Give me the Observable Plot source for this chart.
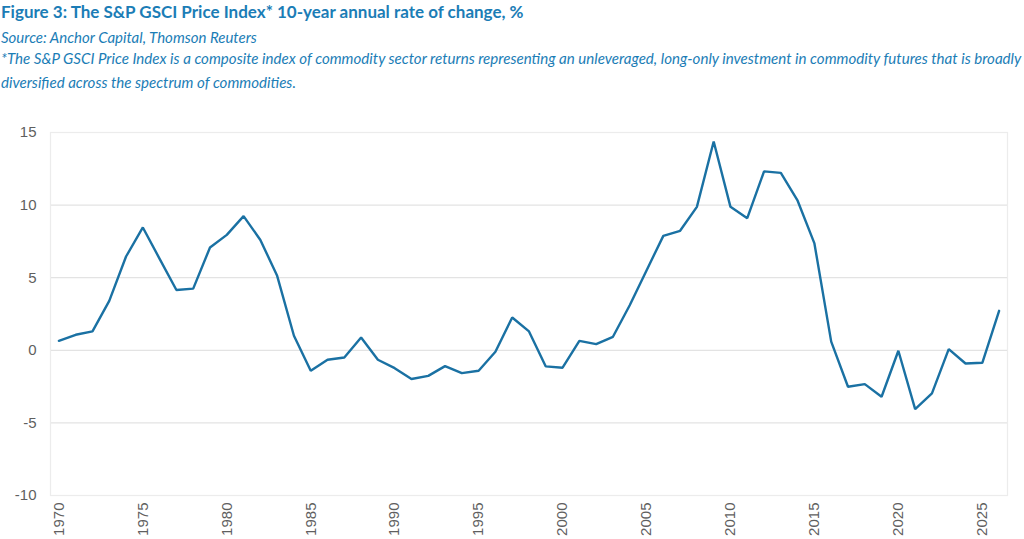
<!DOCTYPE html>
<html>
<head>
<meta charset="utf-8">
<script src="https://cdn.jsdelivr.net/npm/d3@7"></script>
<script src="https://cdn.jsdelivr.net/npm/@observablehq/plot@0.6"></script>
<style>
  html, body { margin: 0; padding: 0; background: #fff; }
  #wrap { width: 1024px; height: 539px; position: relative; overflow: hidden; }
  .t { position: absolute; left: 1px; white-space: nowrap; font-family: Lato, sans-serif; color: #1b7db6; line-height: 1.2; }
  #title { top: 2px; font-size: 17px; font-weight: bold; }
  #source { top: 28px; font-size: 15px; font-style: italic; }
  #note1 { top: 49px; font-size: 15.1px; font-style: italic; }
  #note2 { top: 73px; font-size: 15.1px; font-style: italic; }
  #chart { position: absolute; left: 0; top: 100px; }
</style>
</head>
<body>
<div id="wrap">
  <div class="t" id="title">Figure 3: The S&amp;P GSCI Price Index* 10-year annual rate of change, %</div>
  <div class="t" id="source">Source: Anchor Capital, Thomson Reuters</div>
  <div class="t" id="note1">*The S&amp;P GSCI Price Index is a composite index of commodity sector returns representing an unleveraged, long-only investment in commodity futures that is broadly</div>
  <div class="t" id="note2">diversified across the spectrum of commodities.</div>
  <div id="chart"></div>
</div>
<script>
const years = d3.range(1970, 2027);
const values = [
  0.65, 1.07, 1.3, 3.4, 6.46, 8.46, 6.3, 4.15, 4.25, 7.08,
  7.95, 9.24, 7.6, 5.13, 1.0, -1.41, -0.65, -0.5, 0.88, -0.65,
  -1.23, -1.98, -1.76, -1.09, -1.57, -1.41, -0.1, 2.26, 1.3, -1.11,
  -1.2, 0.65, 0.43, 0.93, 3.1, 5.5, 7.88, 8.23, 9.88, 14.38,
  9.88, 9.1, 12.32, 12.22, 10.3, 7.36, 0.6, -2.51, -2.33, -3.2,
  -0.03, -4.05, -2.97, 0.08, -0.91, -0.86, 2.72
];
const yTicks = [-10, -5, 0, 5, 10, 15];
const xTicks = years.filter(y => y % 5 === 0);

const data = years.map((y, i) => ({year: y, value: values[i]}));

const chart = Plot.plot({
  width: 1024,
  height: 439,
  marginLeft: 50,
  marginRight: 17,
  marginTop: 32,
  marginBottom: 44,
  style: {fontFamily: "'Liberation Sans', Arial, sans-serif", fontSize: "15px", color: "#5f5f5f", background: "#fff"},
  x: {type: "point", domain: years, padding: 0.5, ticks: xTicks, tickFormat: d => String(d), tickSize: 0, tickPadding: 7, tickRotate: -90, label: null},
  y: {domain: [-10, 15], ticks: yTicks, tickFormat: d => String(d), tickSize: 0, tickPadding: 14, label: null, grid: false},
  marks: [
    Plot.gridY(yTicks, {stroke: "#e3e3e3", strokeOpacity: 1, strokeWidth: 1.2}),
    Plot.frame({stroke: "#ececec", strokeWidth: 1.2}),
    Plot.line(data, {x: "year", y: "value", stroke: "#1a71a3", strokeWidth: 2.4, strokeLinejoin: "miter"})
  ]
});
document.getElementById("chart").appendChild(chart);
</script>
</body>
</html>
